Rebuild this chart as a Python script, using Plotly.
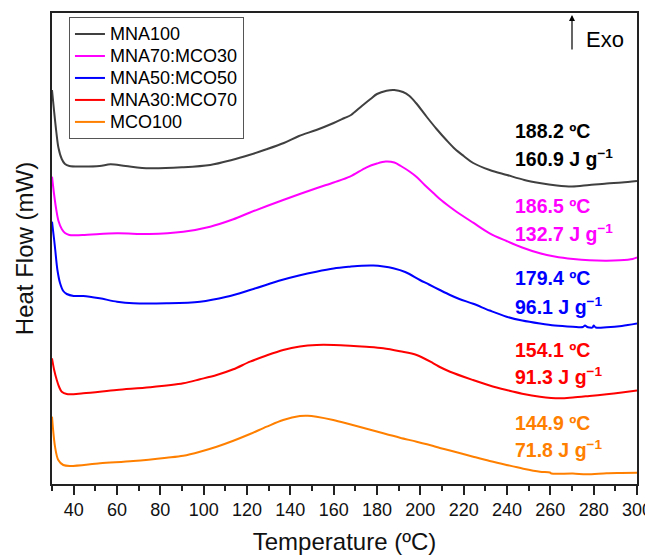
import plotly.graph_objects as go

# ---- data (temperature in ºC, heat-flow signal in arbitrary offset units) ----
T_mna100 = [30, 31, 32, 33, 34.5, 36, 38, 44, 52, 57, 64, 75, 90, 103, 113, 121, 129, 137, 144, 152,
            160, 165, 168, 173, 177, 180, 184.4, 188, 192, 195, 198, 203, 207.5, 212, 216, 220, 224.4,
            232, 240, 248, 255, 263, 270, 278, 286, 293, 300]
HF_mna100 = [394, 372, 352, 336, 325, 320, 318, 317.5, 318, 319.7, 318, 315.7, 316.7, 319, 324, 329, 334.7,
             341, 348, 354, 361, 366, 369, 378, 385, 390, 393.3, 394, 392, 388, 381, 367, 355, 344, 335, 328, 321,
             314, 309, 304, 301, 298.5, 297.5, 299, 300.5, 301.5, 303]

T_mna70 = [30, 31, 32, 33, 34.5, 36, 38, 44, 60, 75, 90.6, 103, 113.7, 121.4, 136.7, 152, 160, 167.5,
           175.2, 180, 184, 188, 191, 195, 198.3, 202, 206, 209, 213.7, 216.7, 224.4, 232, 239.8, 247,
           255.2, 262, 270.6, 278, 286, 292, 298, 300]
HF_mna70 = [307.3, 289, 274, 263, 255, 251, 249, 249, 250.7, 250, 252.3, 257.3, 264.7, 271.5, 284, 295.7,
            301.5, 307.3, 316.7, 320.5, 322.5, 321.5, 318, 312.5, 307, 299, 291, 285, 277, 272.3, 261.3,
            250.7, 243, 236.5, 230.7, 227.5, 225, 223.7, 223.3, 223.7, 225, 226.5]

T_mna50 = [30, 31, 31.5, 32.5, 33.7, 35.2, 36.8, 40, 44.4, 52, 60, 67.5, 83, 98.3, 110.6, 121.4, 136,
           144, 152, 160, 167.5, 173, 178.3, 183, 187.5, 193, 199.8, 204, 209, 213.7, 218, 224.4, 232,
           239.8, 247, 255.2, 262, 270.4, 275, 276, 277, 278, 279.5, 280, 281, 286, 293, 300]
HF_mna50 = [262.3, 244, 234, 214, 201, 193, 190, 188, 188, 185.7, 182.3, 180.7, 180.7, 182.3, 187.3, 194,
            204, 208.5, 212.3, 215.5, 217.3, 218.3, 218.5, 217.5, 215.7, 212, 204, 199.5, 194, 189, 185,
            180.2, 173.5, 167.3, 163.5, 160.5, 158.5, 157.3, 157, 158.5, 157, 156.5, 156.5, 158.5, 156.5,
            156.7, 158, 160.5]

T_mna30 = [30, 31, 32.2, 33.3, 34.5, 36.8, 44.4, 59.8, 75.2, 90.6, 98.3, 106, 113.7, 121.4, 129, 136.7,
           144.4, 152.1, 160, 167.5, 175, 182.9, 190.6, 198.3, 206, 209, 213.7, 224.3, 232, 239.8, 247,
           255.2, 264.4, 270.4, 278, 286, 293, 300]
HF_mna30 = [125.7, 114, 104, 97, 92.3, 90, 90.7, 94, 96.7, 100.7, 104.7, 109, 114.7, 122.3, 128.5, 134,
            137.5, 139, 139, 138.3, 137.2, 135.7, 132.7, 129, 120.7, 117, 112.3, 104, 98.5, 94, 90.3, 87.3,
            85.7, 86.5, 88, 89.7, 91.5, 93.5]

T_mco100 = [30, 31.4, 32.9, 35.2, 38.3, 52.2, 67.5, 82.9, 90.6, 98.3, 106, 113.7, 121.4, 129.1, 136.7,
            144.4, 148, 152.1, 159.8, 167.5, 175.2, 182.9, 190.6, 198.3, 206, 209, 213.7, 224.4, 232,
            239.8, 247.5, 255.2, 259.8, 260.5, 270.4, 276.7, 286, 293, 300]
HF_mco100 = [67.3, 37.3, 24, 19, 18, 20.7, 23, 26.3, 28.3, 32.3, 37.3, 43.3, 50, 57.3, 64, 68, 68.3, 67.3,
             64, 59.7, 55.3, 50.7, 46.3, 42.3, 38, 36, 33.5, 27.3, 23, 19, 15.3, 12.3, 11.5, 10.5, 10.5, 9.7,
             10.7, 11, 11.3]

names = ["MNA100", "MNA70:MCO30", "MNA50:MCO50", "MNA30:MCO70", "MCO100"]
colors = ["#404040", "#FF00FF", "#0000FF", "#FF0000", "#FF8000"]
label_colors = ["#000000", "#FF00FF", "#0000FF", "#FF0000", "#FF8000"]
peak_temps = ["188.2 ºC", "186.5 ºC", "179.4 ºC", "154.1 ºC", "144.9 ºC"]
enthalpies = ["160.9 J g<sup>−1</sup>", "132.7 J g<sup>−1</sup>", "96.1 J g<sup>−1</sup>",
              "91.3 J g<sup>−1</sup>", "71.8 J g<sup>−1</sup>"]
label_y_temp = [353, 278, 206, 134, 61]
label_y_enth = [326, 251, 178, 108, 35]
label_x = 242.7

xs = [T_mna100, T_mna70, T_mna50, T_mna30, T_mco100]
ys = [HF_mna100, HF_mna70, HF_mna50, HF_mna30, HF_mco100]

FONT = "Liberation Sans, Arial, sans-serif"

fig = go.Figure()
for x, y, n, c in zip(xs, ys, names, colors):
    fig.add_trace(go.Scatter(x=x, y=y, mode="lines",
                             name=f'<span style="font-size:18px">{n}</span>',
                             line=dict(color=c, width=2, shape="spline", smoothing=0.9)))

annotations = []
for t, e, yt, ye, c in zip(peak_temps, enthalpies, label_y_temp, label_y_enth, label_colors):
    annotations.append(dict(x=label_x, y=yt, xref="x", yref="y", text=f"<b>{t}</b>", showarrow=False,
                            xanchor="left", yanchor="middle", font=dict(family=FONT, size=19.5, color=c)))
    annotations.append(dict(x=label_x, y=ye, xref="x", yref="y", text=f"<b>{e}</b>", showarrow=False,
                            xanchor="left", yanchor="middle", font=dict(family=FONT, size=19.5, color=c)))

# Exo arrow and label
annotations.append(dict(x=270, y=469, xref="x", yref="y", ax=270, ay=433, axref="x", ayref="y",
                        text="", showarrow=True, arrowhead=2, arrowsize=1, arrowwidth=1.2,
                        arrowcolor="#000", standoff=0, startstandoff=0))
annotations.append(dict(x=275.5, y=445, xref="x", yref="y", text="Exo", showarrow=False,
                        xanchor="left", yanchor="middle", font=dict(family=FONT, size=22, color="#000")))

# the page body adds an 8 px offset, so the figure is sized to fill the remaining window
fig.update_layout(
    width=645, height=547,
    margin=dict(l=44, r=16, t=5, b=71),
    plot_bgcolor="white", paper_bgcolor="white",
    font=dict(family=FONT, color="#000"),
    annotations=annotations,
    legend=dict(x=0.029, y=0.9915, xanchor="left", yanchor="top", bgcolor="white",
                bordercolor="#555", borderwidth=1, font=dict(family=FONT, size=14.6, color="#000"),
                tracegroupgap=0),
    xaxis=dict(range=[30, 300], tick0=0, dtick=20, ticks="outside", ticklen=9, tickwidth=1.5,
               tickcolor="#222", showline=True, linecolor="#222", linewidth=1.5, mirror=True,
               showgrid=False, zeroline=False, automargin=False, tickfont=dict(size=18, color="#111"),
               minor=dict(dtick=10, ticks="outside", ticklen=5, tickwidth=1.5, tickcolor="#222",
                          showgrid=False),
               title=dict(text="Temperature (ºC)", font=dict(size=24, color="#111"), standoff=22)),
    yaxis=dict(range=[0, 471], showticklabels=False, ticks="", showline=True, linecolor="#222",
               linewidth=1.5, mirror=True, showgrid=False, zeroline=False, automargin=False,
               title=dict(text="Heat Flow (mW)", font=dict(size=24, color="#111"), standoff=10)),
)

fig.write_html("out.html")
